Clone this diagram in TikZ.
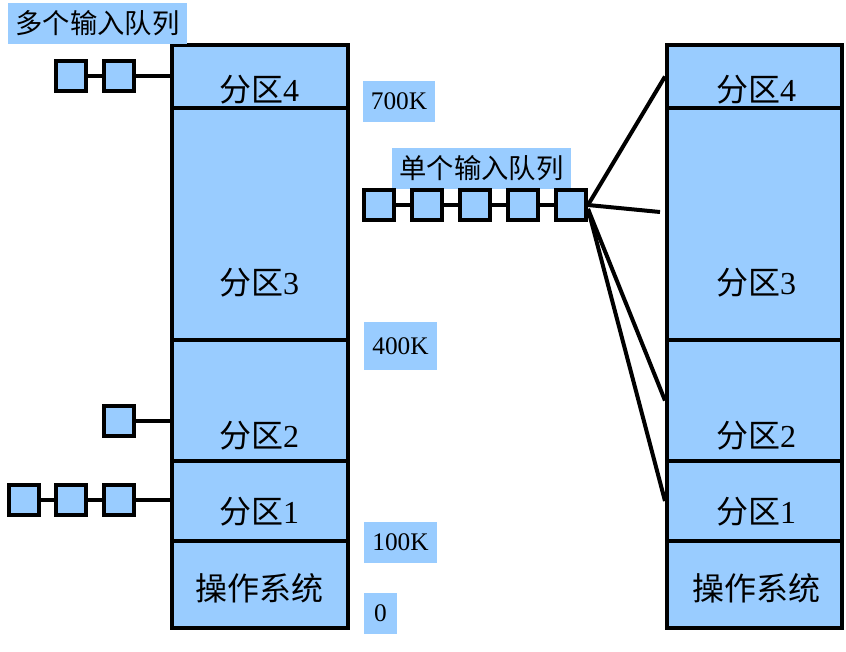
\documentclass[tikz,border=0pt]{standalone}
\usepackage{fontspec}
\usetikzlibrary{calc}
\setmainfont{Liberation Serif}
\newfontfamily\cjk{Noto Sans CJK SC}
\definecolor{memblue}{HTML}{99CCFF}
\begin{document}
\begin{tikzpicture}[x=0.75pt,y=-0.75pt,
  part/.style={draw,line width=3pt,fill=memblue,rectangle,inner sep=0pt},
  lbl/.style={inner sep=0pt,font=\fontsize{24pt}{26pt}\selectfont},
  tag/.style={fill=memblue,inner sep=0pt,font=\fontsize{19pt}{22pt}\selectfont},
  qtag/.style={fill=memblue,inner sep=0pt,minimum width=134.25pt,minimum height=30.75pt,font=\fontsize{20.5pt}{23pt}\selectfont},
  qbox/.style={draw,line width=3pt,fill=memblue,minimum size=22.5pt,inner sep=0pt},
  link/.style={line width=3pt}]
\useasboundingbox (0,0) rectangle (846,651);

% left column
\node[part,minimum width=132pt,minimum height=47.25pt] (L4) at (260,76.5) {};
\node[part,minimum width=132pt,minimum height=174pt] (L3) at (260,224) {};
\node[part,minimum width=132pt,minimum height=90.75pt] (L2) at (260,400.5) {};
\node[part,minimum width=132pt,minimum height=60pt] (L1) at (260,501) {};
\node[part,minimum width=132pt,minimum height=65.25pt] (L0) at (260,584.5) {};

% right column
\node[part,minimum width=131.25pt,minimum height=47.25pt] (R4) at (754.5,76.5) {};
\node[part,minimum width=131.25pt,minimum height=174pt] (R3) at (754.5,224) {};
\node[part,minimum width=131.25pt,minimum height=90.75pt] (R2) at (754.5,400.5) {};
\node[part,minimum width=131.25pt,minimum height=60pt] (R1) at (754.5,501) {};
\node[part,minimum width=131.25pt,minimum height=65.25pt] (R0) at (754.5,584.5) {};

% partition labels
\node[lbl] (L4t) at (259,90) {{\cjk 分区}4};
\node[lbl] (L3t) at (259,283) {{\cjk 分区}3};
\node[lbl] (L2t) at (259,436) {{\cjk 分区}2};
\node[lbl] (L1t) at (259,512) {{\cjk 分区}1};
\node[lbl] (L0t) at (259,588) {\cjk 操作系统};
\node[lbl] (R4t) at (756,90) {{\cjk 分区}4};
\node[lbl] (R3t) at (756,283) {{\cjk 分区}3};
\node[lbl] (R2t) at (756,436) {{\cjk 分区}2};
\node[lbl] (R1t) at (756,512) {{\cjk 分区}1};
\node[lbl] (R0t) at (756,588) {\cjk 操作系统};

% address tags
\node[tag,minimum width=54pt,minimum height=30.75pt] (a700) at (399,101.5) {700K};
\node[tag,minimum width=54.75pt,minimum height=36pt] (a400) at (400.5,346) {400K};
\node[tag,minimum width=54.75pt,minimum height=30.75pt] (a100) at (400.5,542.5) {100K};
\node[tag,minimum width=24.75pt,minimum height=30.75pt] (a0) at (380.5,613.5) {0};

% queue titles
\node[qtag] (multi) at (97.5,23.5) {\cjk 多个输入队列};
\node[qtag] (single) at (481.5,168) {\cjk 单个输入队列};

% multiple queues
\node[qbox] (m41) at (71,76) {};
\node[qbox] (m42) at (119,76) {};
\draw[link] (m41) -- (m42);
\draw[link] (m42) -- (m42 -| L4.west);

\node[qbox] (m21) at (119,421) {};
\draw[link] (m21) -- (m21 -| L2.west);

\node[qbox] (m11) at (24,500) {};
\node[qbox] (m12) at (71,500) {};
\node[qbox] (m13) at (119,500) {};
\draw[link] (m11) -- (m12);
\draw[link] (m12) -- (m13);
\draw[link] (m13) -- (m13 -| L1.west);

% single queue
\node[qbox] (s1) at (379,205) {};
\node[qbox] (s2) at (427,205) {};
\node[qbox] (s3) at (475,205) {};
\node[qbox] (s4) at (523,205) {};
\node[qbox] (s5) at (571,205) {};
\draw[link] (s1) -- (s2);
\draw[link] (s2) -- (s3);
\draw[link] (s3) -- (s4);
\draw[link] (s4) -- (s5);
\coordinate (s3end) at (660,212);
\draw[link] (s5.east) -- (R4.west);
\draw[link] (s5.east) -- (s3end);
\draw[link] ($(s5.east)+(0,4)$) -- (R2.west);
\draw[link] ($(s5.east)+(0,4)$) -- (R1.west);
\end{tikzpicture}
\end{document}
